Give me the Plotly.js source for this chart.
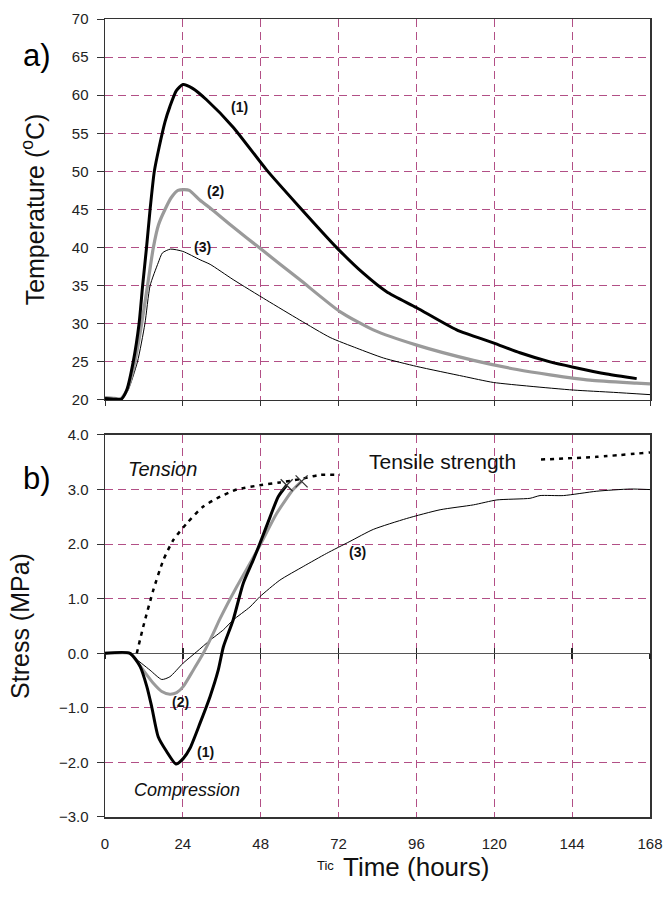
<!DOCTYPE html>
<html>
<head>
<meta charset="utf-8">
<script src="https://cdn.plot.ly/plotly-3.0.1.min.js"></script>
<style>
  html, body { margin: 0; padding: 0; background: #ffffff; }
  #chart { width: 667px; height: 910px; }
</style>
</head>
<body>
<div id="chart"></div>
<script>
// ---------- Data ----------
const timeTicks = [0, 24, 48, 72, 96, 120, 144, 168];
const timeTickLabels = ['0', '24', '48', '72', '96', '120', '144', '168'];

// a) Temperature (°C)
const tempTime1 = [0, 3, 5, 6.7, 8.7, 10.5, 11.6, 12.8, 13.9, 15.2, 16.7, 18.5, 20, 22, 24, 27, 31.3, 39.5, 49.8, 60, 71.4, 79.7, 86.8, 96.1, 108.4, 119.7, 127.9, 137.2, 144.4, 154.7, 163.9];
const tempSeries1 = [20.2, 20.1, 20.1, 21.3, 25, 30, 35, 40, 45, 50, 53.2, 56.5, 58.5, 60.6, 61.4, 60.9, 59.4, 55.8, 50.2, 45.3, 40.0, 36.6, 34.2, 32.1, 29.2, 27.5, 26.2, 25.0, 24.3, 23.4, 22.8];

const tempTime2 = [0, 3, 5, 7, 9.2, 11.3, 13.1, 14.9, 16.5, 18.5, 20.5, 22.5, 24.5, 26, 29.3, 32.4, 39.5, 47.8, 60, 72.4, 82.7, 96.1, 113.6, 127, 137.2, 149.5, 163.9, 168];
const tempSeries2 = [20.3, 20.2, 20.2, 21.5, 25, 30, 35, 40, 43, 45, 46.6, 47.5, 47.6, 47.5, 46.2, 45.2, 42.7, 39.9, 35.8, 31.6, 29.2, 27.2, 25.2, 24.0, 23.3, 22.6, 22.2, 22.1];

const tempTime3 = [0, 3, 5, 7, 10, 12.3, 13.9, 16.4, 17.7, 20.2, 24, 29.3, 32.4, 39.5, 49.8, 60, 69.4, 77.6, 85.9, 96.1, 110.5, 119.7, 131, 144.4, 156.8, 168];
const tempSeries3 = [20.3, 20.2, 20.2, 21.2, 25, 30, 35, 38, 39.3, 39.8, 39.5, 38.4, 37.8, 35.8, 33.1, 30.5, 28.2, 26.8, 25.5, 24.4, 23.1, 22.3, 21.8, 21.3, 21.0, 20.7];

// b) Stress (MPa)
const stressTime1 = [0, 7.7, 10.8, 12.9, 14.4, 16.4, 19, 21.9, 24.1, 26.2, 29.3, 32.4, 34.9, 36.5, 39.5, 42.6, 45.7, 47.8, 50.9, 53.4, 56];
const stressSeries1 = [0, 0, -0.24, -0.61, -0.98, -1.53, -1.80, -2.03, -1.93, -1.74, -1.28, -0.79, -0.31, 0.12, 0.61, 1.28, 1.71, 2.02, 2.50, 2.87, 3.08];

const stressTime2 = [0, 7.7, 8.7, 11.8, 14.9, 17.5, 20, 22.1, 24.1, 27.2, 30.3, 33.4, 35.5, 40.6, 44.7, 47.8, 52.9, 58, 60.6];
const stressSeries2 = [0, 0, -0.06, -0.31, -0.55, -0.70, -0.75, -0.72, -0.61, -0.31, 0, 0.37, 0.64, 1.22, 1.65, 1.98, 2.56, 3.0, 3.15];

const stressTime3 = [0, 7.7, 8.7, 13.9, 17.5, 20, 24.1, 28.3, 32.4, 36.5, 39.5, 44.7, 47.8, 53.9, 61.1, 68.3, 75.5, 82.7, 93, 103.3, 113.6, 120.8, 131, 134.1, 141.3, 151.6, 161.9, 168];
const stressSeries3 = [0, 0, -0.06, -0.31, -0.48, -0.43, -0.18, 0.03, 0.24, 0.43, 0.61, 0.85, 1.04, 1.34, 1.59, 1.83, 2.05, 2.27, 2.47, 2.63, 2.72, 2.81, 2.84, 2.89, 2.89, 2.97, 3.01, 3.0];

// Tensile strength (hidden behind its label between ~72 h and ~134 h)
const strengthTime = [9.8, 11.8, 14.9, 18, 21.1, 25.2, 30.3, 35.5, 40.6, 47.8, 53.9, 60.1, 66.3, 72.4, null, 134.4, 151.6, 168];
const strengthSeries = [0, 0.49, 1.16, 1.71, 2.08, 2.38, 2.69, 2.87, 3.0, 3.08, 3.13, 3.19, 3.27, 3.27, null, 3.55, 3.60, 3.68];

// Cracking points (x markers)
const crackTime = [56, 60.6];
const crackStress = [3.08, 3.15];

// ---------- Styling ----------
const FONT = 'Liberation Sans, Arial, sans-serif';
const GRID = '#b24f86';
const GRIDDASH = '8px,5px';
const AXIS = '#333333';
const GRAY = '#9a9a9a';
const SMOOTH = 0.6;

const traces = [
  {x: tempTime3, y: tempSeries3, xaxis: 'x', yaxis: 'y', mode: 'lines', name: '(3)',
   line: {color: '#000000', width: 1, shape: 'spline', smoothing: SMOOTH}},
  {x: tempTime2, y: tempSeries2, xaxis: 'x', yaxis: 'y', mode: 'lines', name: '(2)',
   line: {color: GRAY, width: 3.2, shape: 'spline', smoothing: SMOOTH}},
  {x: tempTime1, y: tempSeries1, xaxis: 'x', yaxis: 'y', mode: 'lines', name: '(1)',
   line: {color: '#000000', width: 3, shape: 'spline', smoothing: SMOOTH}},

  {x: strengthTime, y: strengthSeries, xaxis: 'x2', yaxis: 'y2', mode: 'lines', name: 'Tensile strength',
   connectgaps: false, line: {color: '#000000', width: 2.5, dash: '4px,5px', shape: 'spline', smoothing: SMOOTH}},
  {x: stressTime3, y: stressSeries3, xaxis: 'x2', yaxis: 'y2', mode: 'lines', name: '(3)',
   line: {color: '#000000', width: 1, shape: 'spline', smoothing: SMOOTH}},
  {x: stressTime2, y: stressSeries2, xaxis: 'x2', yaxis: 'y2', mode: 'lines', name: '(2)',
   line: {color: GRAY, width: 3, shape: 'spline', smoothing: SMOOTH}},
  {x: stressTime1, y: stressSeries1, xaxis: 'x2', yaxis: 'y2', mode: 'lines', name: '(1)',
   line: {color: '#000000', width: 3, shape: 'spline', smoothing: SMOOTH}},
  {x: crackTime, y: crackStress, xaxis: 'x2', yaxis: 'y2', mode: 'markers', name: 'cracking',
   marker: {symbol: 'x-thin-open', size: 12, color: '#333333', line: {color: '#333333', width: 1.3}}},

  // invisible helper traces so that the tick axes on the zero-stress line are drawn
  {x: timeTicks, y: timeTicks.map(() => 0), xaxis: 'x3', yaxis: 'y2', mode: 'none',
   hoverinfo: 'skip', showlegend: false},
  {x: timeTicks, y: timeTicks.map(() => 0), xaxis: 'x4', yaxis: 'y2', mode: 'none',
   hoverinfo: 'skip', showlegend: false}
];

const baseX = {
  range: [0, 168], tickvals: timeTicks, ticktext: timeTickLabels,
  showgrid: true, gridcolor: GRID, griddash: GRIDDASH, gridwidth: 1,
  zeroline: false, showline: true, mirror: true, linecolor: AXIS, linewidth: 1.5,
  tickfont: {family: FONT, size: 15, color: '#222'}, fixedrange: true
};

const zeroTickAxis = {
  overlaying: 'x2', anchor: 'free', position: 0.2051, range: [0, 168],
  tickvals: timeTicks, ticktext: timeTickLabels,
  showticklabels: false, showgrid: false, zeroline: false, showline: false,
  ticklen: 5, tickcolor: '#222222', tickwidth: 1.3, fixedrange: true
};

const layout = {
  width: 667, height: 910,
  margin: {l: 105, r: 17, t: 19, b: 93},
  paper_bgcolor: '#ffffff', plot_bgcolor: '#ffffff',
  showlegend: false,
  font: {family: FONT, color: '#111'},
  xaxis: Object.assign({}, baseX, {
    anchor: 'y', showticklabels: false, ticks: 'outside', ticklen: 5, tickcolor: AXIS
  }),
  yaxis: {
    domain: [0.5226, 1], anchor: 'x', range: [20, 70], dtick: 5, tick0: 20,
    showgrid: true, gridcolor: GRID, griddash: GRIDDASH, gridwidth: 1,
    zeroline: false, showline: true, mirror: true, linecolor: AXIS, linewidth: 1.5,
    ticks: 'outside', ticklen: 7, tickcolor: AXIS, ticklabelstandoff: 5,
    tickfont: {family: FONT, size: 15, color: '#222'},
    title: {text: 'Temperature (<sup>o</sup>C)', font: {family: FONT, size: 25, color: '#111'}, standoff: 20}
  },
  xaxis2: Object.assign({}, baseX, {
    anchor: 'y2', showticklabels: true, ticks: '', ticklabelstandoff: 12
  }),
  yaxis2: {
    domain: [0, 0.4787], anchor: 'x2', range: [-3, 4], dtick: 1, tick0: -3, tickformat: '.1f',
    showgrid: true, gridcolor: GRID, griddash: GRIDDASH, gridwidth: 1,
    zeroline: true, zerolinecolor: '#555555', zerolinewidth: 1.5,
    showline: true, mirror: true, linecolor: AXIS, linewidth: 1.5,
    ticks: 'outside', ticklen: 7, tickcolor: AXIS, ticklabelstandoff: 5,
    tickfont: {family: FONT, size: 15, color: '#222'},
    title: {text: 'Stress (MPa)', font: {family: FONT, size: 25, color: '#111'}, standoff: 22}
  },
  // tick marks crossing the zero-stress line
  xaxis3: Object.assign({}, zeroTickAxis, {ticks: 'outside'}),
  xaxis4: Object.assign({}, zeroTickAxis, {ticks: 'inside'}),
  annotations: [
    {text: 'a)', xref: 'paper', yref: 'paper', x: -0.155, y: 0.979, showarrow: false,
     font: {family: FONT, size: 31, color: '#000'}},
    {text: 'b)', xref: 'paper', yref: 'paper', x: -0.155, y: 0.4236, showarrow: false,
     font: {family: FONT, size: 31, color: '#000'}},
    {text: '<b>(1)</b>', xref: 'x', yref: 'y', x: 41.6, y: 58.45, showarrow: false,
     font: {family: FONT, size: 14, color: '#111'}},
    {text: '<b>(2)</b>', xref: 'x', yref: 'y', x: 34.2, y: 47.4, showarrow: false,
     font: {family: FONT, size: 14, color: '#111'}},
    {text: '<b>(3)</b>', xref: 'x', yref: 'y', x: 29.9, y: 40.1, showarrow: false,
     font: {family: FONT, size: 14, color: '#111'}},
    {text: '<b>(2)</b>', xref: 'x2', yref: 'y2', x: 23.4, y: -0.89, showarrow: false,
     font: {family: FONT, size: 14, color: '#111'}},
    {text: '<b>(1)</b>', xref: 'x2', yref: 'y2', x: 31.1, y: -1.81, showarrow: false,
     font: {family: FONT, size: 14, color: '#111'}},
    {text: '<b>(3)</b>', xref: 'x2', yref: 'y2', x: 77.7, y: 1.86, showarrow: false,
     font: {family: FONT, size: 14, color: '#111'}},
    {text: '<i>Tension</i>', xref: 'x2', yref: 'y2', x: 17.6, y: 3.38, showarrow: false,
     font: {family: FONT, size: 20, color: '#111'}},
    {text: '<i>Compression</i>', xref: 'x2', yref: 'y2', x: 25.3, y: -2.51, showarrow: false,
     font: {family: FONT, size: 18, color: '#111'}},
    {text: 'Tensile strength', xref: 'x2', yref: 'y2', x: 103.9, y: 3.52, showarrow: false,
     font: {family: FONT, size: 21, color: '#111'}},
    {text: 'Tic', xref: 'paper', yref: 'paper', x: 0.404, y: -0.073, showarrow: false,
     font: {family: FONT, size: 13, color: '#111'}},
    {text: 'Time (hours)', xref: 'paper', yref: 'paper', x: 0.5706, y: -0.084, showarrow: false,
     font: {family: FONT, size: 26, color: '#111'}}
  ]
};

Plotly.newPlot('chart', traces, layout, {displayModeBar: false, staticPlot: true});
</script>
</body>
</html>
